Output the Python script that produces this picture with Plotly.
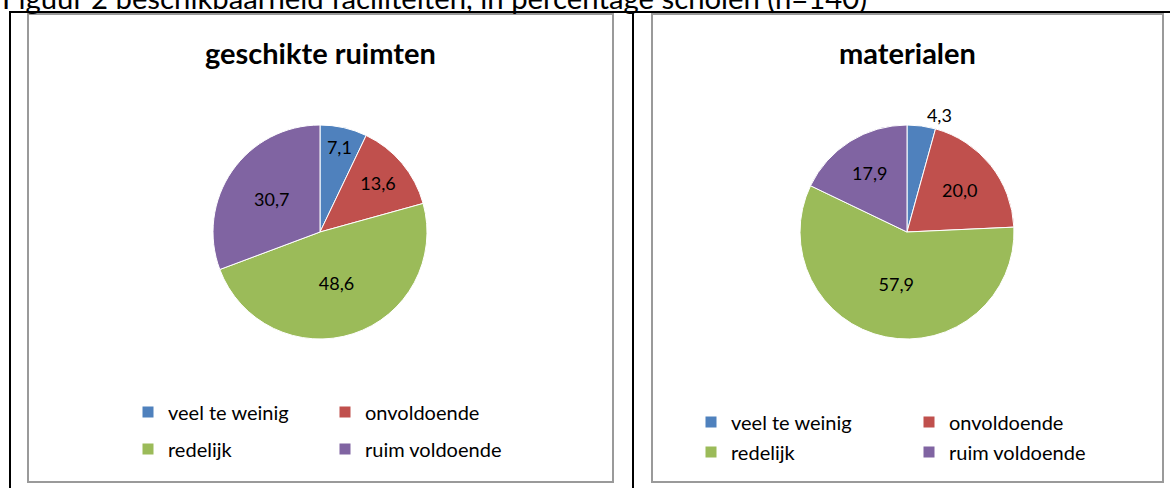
import plotly.graph_objects as go

# ---- data ----
categories = ["veel te weinig", "onvoldoende", "redelijk", "ruim voldoende"]
ruimten_values = [7.1, 13.6, 48.6, 30.7]
materialen_values = [4.3, 20.0, 57.9, 17.9]
chart_titles = ["geschikte ruimten", "materialen"]
caption = "Figuur 2 beschikbaarheid faciliteiten, in percentage scholen (n=140)"
colors = ["#4F81BD", "#C0504D", "#9BBB59", "#8064A2"]

W, H = 1170, 488
FONT = "Lato, 'Open Sans', sans-serif"


def px(x):
    return x / W


def py(y):
    return 1 - y / H


fig = go.Figure()

pie_common = dict(
    sort=False,
    direction="clockwise",
    rotation=0,
    marker=dict(colors=colors, line=dict(color="white", width=1)),
    texttemplate="%{value:.1f}",
    insidetextorientation="horizontal",
    textfont=dict(family=FONT, size=18, color="black"),
    showlegend=False,
    hoverinfo="skip",
)

fig.add_trace(go.Pie(
    labels=categories, values=ruimten_values,
    domain=dict(x=[px(213), px(427)], y=[py(339), py(125)]),
    textposition="inside",
    **pie_common,
))
fig.add_trace(go.Pie(
    labels=categories, values=materialen_values,
    domain=dict(x=[px(800), px(1014)], y=[py(339), py(125)]),
    textposition=["outside", "inside", "inside", "inside"],
    **pie_common,
))

# legend entries (2x2 grid per chart -> one legend per row)
legend_ids = [["legend", "legend2"], ["legend3", "legend4"]]
for chart in range(2):
    for i, (cat, col) in enumerate(zip(categories, colors)):
        fig.add_trace(go.Scatter(
            x=[None], y=[None], mode="markers", name=cat,
            marker=dict(symbol="square", size=11, color=col),
            legend=legend_ids[chart][i // 2], hoverinfo="skip",
        ))

leg_common = dict(
    orientation="h", xanchor="left", yanchor="middle",
    entrywidthmode="pixels", bgcolor="rgba(0,0,0,0)",
    font=dict(family=FONT, size=20, color="black"),
    itemclick=False, itemdoubleclick=False,
)

fig.update_layout(
    width=W, height=H, autosize=False,
    margin=dict(l=0, r=0, t=0, b=0),
    paper_bgcolor="white", plot_bgcolor="white",
    separators=",.",
    xaxis=dict(visible=False, domain=[0, 1]),
    yaxis=dict(visible=False, domain=[0, 1]),
    legend=dict(x=px(128), y=py(412), entrywidth=152, **leg_common),
    legend2=dict(x=px(128), y=py(449), entrywidth=152, **leg_common),
    legend3=dict(x=px(691), y=py(422), entrywidth=173, **leg_common),
    legend4=dict(x=px(691), y=py(452), entrywidth=173, **leg_common),
)

# frames
shapes = [
    dict(type="line", x0=px(10), x1=px(10), y0=py(12), y1=py(500), line=dict(color="black", width=2)),
    dict(type="line", x0=px(9), x1=px(1172), y0=py(12), y1=py(12), line=dict(color="black", width=2)),
    dict(type="line", x0=px(633), x1=px(633), y0=py(12), y1=py(500), line=dict(color="black", width=2)),
    dict(type="rect", x0=px(28), x1=px(613), y0=py(14), y1=py(482), line=dict(color="#9a9a9a", width=2)),
    dict(type="rect", x0=px(652), x1=px(1163), y0=py(14), y1=py(482), line=dict(color="#9a9a9a", width=2)),
]
for s in shapes:
    s.update(xref="paper", yref="paper", layer="below")
fig.update_layout(shapes=shapes)

annotations = [
    dict(text=caption, x=px(0), y=py(17), xanchor="left", yanchor="bottom",
         showarrow=False, font=dict(family=FONT, size=29.3, color="black")),
    dict(text="<b>%s</b>" % chart_titles[0], x=px(320), y=py(53), xanchor="center", yanchor="middle",
         showarrow=False, font=dict(family=FONT, size=29, color="black")),
    dict(text="<b>%s</b>" % chart_titles[1], x=px(907), y=py(53), xanchor="center", yanchor="middle",
         showarrow=False, font=dict(family=FONT, size=29, color="black")),
]
for a in annotations:
    a.update(xref="paper", yref="paper")
fig.update_layout(annotations=annotations)

fig.write_html(
    "out.html",
    config={"displayModeBar": False},
    post_script="document.body.style.margin='0';document.body.style.padding='0';",
)
